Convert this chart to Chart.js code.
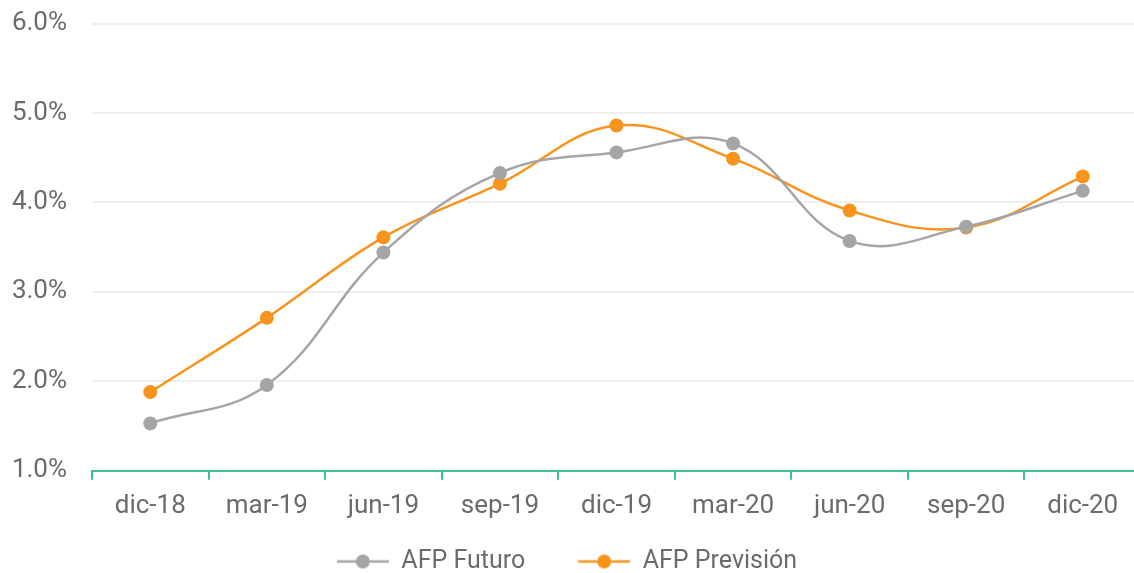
<!DOCTYPE html>
<html>
<head>
<meta charset="utf-8">
<script src="https://cdn.jsdelivr.net/npm/chart.js@4"></script>
<style>
  html, body { margin: 0; padding: 0; background: #fff; overflow: hidden; }
  #wrap { width: 1148px; height: 601px; margin-top: -17px; position: relative; }
</style>
</head>
<body>
<div id="wrap"><canvas id="afpChart"></canvas></div>
<script>
const categories = ['dic-18', 'mar-19', 'jun-19', 'sep-19', 'dic-19', 'mar-20', 'jun-20', 'sep-20', 'dic-20'];
const futuro = [1.53, 1.96, 3.44, 4.33, 4.56, 4.66, 3.57, 3.73, 4.13];
const prevision = [1.88, 2.71, 3.61, 4.21, 4.86, 4.49, 3.91, 3.72, 4.29];

const grey = '#a5a5a5';
const orange = '#f7941d';
const textColor = '#6b6b6b';
const markerGap = 37; // empty room left of the legend marker, spaces the two items

// little "line with dot" marker for the legend
function legendMarker(color) {
    const c = document.createElement('canvas');
    c.width = 52 + markerGap;
    c.height = 16;
    const g = c.getContext('2d');
    g.strokeStyle = color;
    g.lineWidth = 2.5;
    g.beginPath();
    g.moveTo(markerGap, 8);
    g.lineTo(markerGap + 52, 8);
    g.stroke();
    g.fillStyle = color;
    g.beginPath();
    g.arc(markerGap + 26, 8, 7, 0, Math.PI * 2);
    g.fill();
    return c;
}

// the marker padding pushes the legend right, pull it back
const legendShift = {
    id: 'legendShift',
    afterLayout(chart) {
        chart.legend.left -= 62;
    }
};

const ctx = document.getElementById('afpChart').getContext('2d');

const afpChart = new Chart(ctx, {
    type: 'line',
    data: {
        labels: categories,
        datasets: [{
            label: 'AFP Futuro',
            data: futuro,
            borderColor: grey,
            backgroundColor: grey,
            borderWidth: 2.5,
            pointRadius: 7,
            pointBorderWidth: 0,
            tension: 0.4
        }, {
            label: 'AFP Previsión',
            data: prevision,
            borderColor: orange,
            backgroundColor: orange,
            borderWidth: 2.5,
            pointRadius: 7,
            pointBorderWidth: 0,
            tension: 0.4
        }]
    },
    plugins: [legendShift],
    options: {
        responsive: true,
        maintainAspectRatio: false,
        animation: false,
        layout: { padding: { top: 8, left: 12, right: 1, bottom: 0 } },
        plugins: {
            legend: {
                position: 'bottom',
                labels: {
                    usePointStyle: true,
                    pointStyleWidth: 52 + markerGap,
                    padding: 16,
                    color: textColor,
                    font: { family: 'Roboto', size: 25 },
                    generateLabels: (chart) => chart.data.datasets.map((ds, i) => ({
                        text: ds.label,
                        fillStyle: ds.borderColor,
                        strokeStyle: ds.borderColor,
                        lineWidth: 0,
                        pointStyle: legendMarker(ds.borderColor),
                        fontColor: textColor,
                        datasetIndex: i
                    }))
                }
            },
            tooltip: { enabled: false }
        },
        scales: {
            x: {
                offset: true,
                border: { display: true, color: '#3cc08e', width: 2 },
                grid: {
                    offset: true,
                    drawOnChartArea: false,
                    drawTicks: true,
                    tickLength: 9,
                    color: '#3cc08e',
                    lineWidth: 2
                },
                ticks: {
                    color: textColor,
                    padding: 11,
                    font: { family: 'Roboto', size: 26 },
                    maxRotation: 0
                }
            },
            y: {
                min: 1,
                max: 6,
                border: { display: false },
                grid: { color: '#efefef', lineWidth: 2, drawTicks: false },
                afterFit: (scale) => { scale.width = 80; },
                ticks: {
                    stepSize: 1,
                    padding: 25,
                    color: textColor,
                    font: { family: 'Roboto', size: 26 },
                    callback: (v) => v.toFixed(1) + '%'
                }
            }
        }
    }
});
</script>
</body>
</html>
